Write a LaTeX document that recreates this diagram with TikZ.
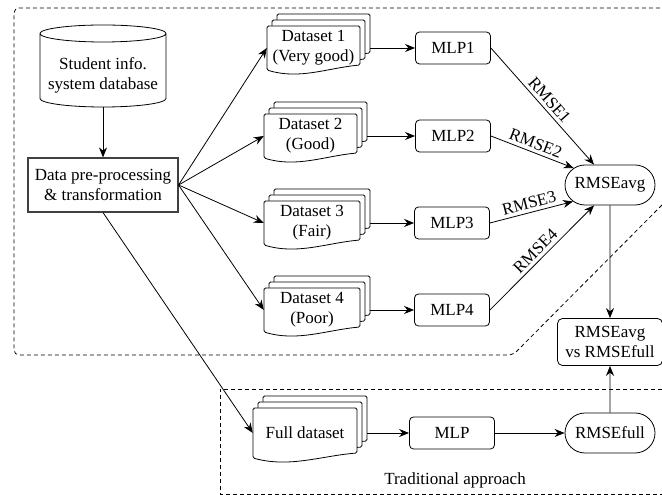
\documentclass[tikz,border=0pt]{standalone}
\usepackage{fontspec}
\setmainfont{Liberation Serif}
\usetikzlibrary{arrows.meta,shapes.misc,positioning}

\tikzset{
  conn/.style={-{Stealth[length=10pt,width=8pt]}, line width=0.8pt},
  mlpbox/.style={draw, rounded corners=4pt, line width=0.8pt, minimum width=75pt, minimum height=32pt},
  rmsebox/.style={draw, rounded rectangle, line width=0.8pt, minimum width=94pt, minimum height=40pt, inner sep=2pt},
  region/.style={dash pattern=on 4pt off 3pt, line width=0.8pt},
}

% stack of three documents: name, x, y, half width, half height, text
\newcommand\docstack[6]{%
  \foreach \o in {2,1,0}{
    \begin{scope}[shift={(#2+5*\o,#3+6*\o)}]
      \draw[fill=white, line width=0.8pt, rounded corners=1.5pt]
        (-#4,-#5) -- (-#4,#5) -- (#4,#5) -- (#4,-#5+5)
        .. controls (0.3*#4,-#5+2) and (-0.3*#4,-#5-10) .. (-#4,-#5) -- cycle;
    \end{scope}
  }
  \node[align=center, inner sep=0pt, minimum width=2*#4, minimum height=2*#5] (#1) at (#2,#3) {#6};
}

\begin{document}
\begin{tikzpicture}[x=1pt, y=1pt, font=\fontsize{17}{20}\selectfont]
  \useasboundingbox (0,0) rectangle (662,495);

  % dashed regions
  \draw[region, rounded corners=5pt] (662,290) -- (513,140) -- (14,140) -- (14,487) -- (662,487);
  \draw[region] (662,106) -- (220,106) -- (220,1) -- (662,1);
  \node (trad) at (455,15) {Traditional approach};

  % database
  \draw[line width=0.8pt] (40,461.5) -- (40,396.5)
    arc[start angle=180, end angle=360, x radius=63pt, y radius=8.5pt] -- (166,461.5)
    arc[start angle=0, end angle=360, x radius=63pt, y radius=8.5pt];
  \node[align=center, inner sep=0pt, minimum width=126pt, minimum height=64pt] (db) at (103,420) {Student info.\\system database};

  \node[draw=black!75, line width=1.1pt, align=center, minimum width=150pt, minimum height=54pt, inner sep=2pt] (prep) at (103,310) {Data pre-processing\\\& transformation};

  % datasets
  \docstack{ds1}{313.5}{447}{46.5}{22}{Dataset 1\\(Very good)}
  \docstack{ds2}{310.5}{359}{46.5}{22}{Dataset 2\\(Good)}
  \docstack{ds3}{312}{272}{48}{22}{Dataset 3\\(Fair)}
  \docstack{ds4}{312}{185}{48}{22}{Dataset 4\\(Poor)}
  \docstack{full}{305}{62}{52}{25}{Full dataset}

  % models
  \node[mlpbox] (mlp1) at (453,447) {MLP1};
  \node[mlpbox] (mlp2) at (453,359) {MLP2};
  \node[mlpbox] (mlp3) at (452,272) {MLP3};
  \node[mlpbox] (mlp4) at (452,185) {MLP4};
  \node[mlpbox, minimum width=85pt] (mlp) at (452,62) {MLP};

  % errors
  \node[rmsebox] (avg) at (610,310) {RMSEavg};
  \node[rmsebox] (rfull) at (610,62) {RMSEfull};
  \node[draw, rounded corners=5pt, line width=0.8pt, align=center, minimum width=105pt, minimum height=47pt, inner sep=2pt] (vs) at (610,153) {RMSEavg\\vs RMSEfull};

  % connectors
  \draw[conn] (db) -- (prep);
  \foreach \d in {ds1,ds2,ds3,ds4}
    \draw[conn] (prep.east) -- (\d.west);
  \draw[conn] (prep.south) -- (full.west);
  \foreach \i in {1,2,3,4}
    \draw[conn] ([xshift=10pt]ds\i.east) -- (mlp\i);
  \draw[conn] ([xshift=10pt]full.east) -- (mlp);
  \draw[conn] (mlp1.east) -- node[sloped, above] {RMSE1} (avg.128);
  \draw[conn] (mlp2.east) -- node[sloped, above] {RMSE2} (avg.155);
  \draw[conn] (mlp3.east) -- node[sloped, above] {RMSE3} (avg.204);
  \draw[conn] (mlp4.east) -- node[sloped, above] {RMSE4} (avg.232);
  \draw[conn] (mlp) -- (rfull);
  \draw[conn] (avg) -- (vs);
  \draw[conn] (rfull) -- (vs);
\end{tikzpicture}
\end{document}
